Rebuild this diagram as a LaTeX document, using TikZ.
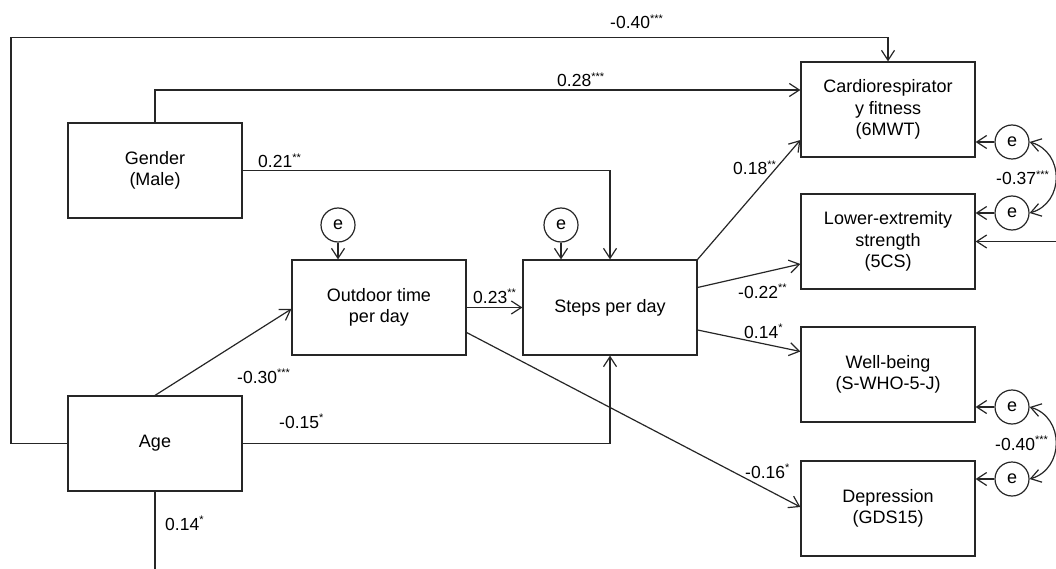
\documentclass[tikz,border=0pt]{standalone}
\usepackage{fontspec}
\setmainfont{Liberation Sans}
\usetikzlibrary{arrows.meta,calc}
\newcommand{\sigst}[1]{\raisebox{6.5pt}{\fontsize{11}{11}\selectfont #1}}
\begin{document}
\begin{tikzpicture}[x=1pt,y=-1pt,
  lc/.style={draw=black!85,line width=1.2pt},
  box/.style={lc,rectangle,minimum width=174pt,minimum height=95pt,align=center,font=\fontsize{18}{21.5}\selectfont,inner sep=0pt},
  err/.style={lc,circle,minimum size=34pt,inner sep=0pt,font=\fontsize{18}{18}\selectfont},
  conn/.style={lc,-{Straight Barb[length=10pt,width=13pt]}},
  cov/.style={lc,{Straight Barb[length=10pt,width=13pt]}-{Straight Barb[length=10pt,width=13pt]}},
  lab/.style={anchor=base west,inner sep=0pt,font=\fontsize{17.5}{17.5}\selectfont}]
\useasboundingbox (0,0) rectangle (1056,569);

% boxes
\node[box] (gender)  at (155,170.5) {Gender\\(Male)};
\node[box] (age)     at (155,443.5) {Age};
\node[box] (outdoor) at (379,307.5) {Outdoor time\\per day};
\node[box] (steps)   at (610,307.5) {Steps per day};
\node[box] (cardio)  at (888,109.5) {Cardiorespirator\\y fitness\\(6MWT)};
\node[box] (lower)   at (888,241.5) {Lower-extremity\\strength\\(5CS)};
\node[box] (well)    at (888,374.5) {Well-being\\(S-WHO-5-J)};
\node[box] (dep)     at (888,508.5) {Depression\\(GDS15)};

% error terms
\node[err] (eo) at (338,225) {e};
\node[err] (es) at (561,225) {e};
\node[err] (ec) at (1012,142) {e};
\node[err] (el) at (1012,213) {e};
\node[err] (ew) at (1012,407) {e};
\node[err] (ed) at (1012,479) {e};

\draw[conn] (eo) -- (eo |- outdoor.north);
\draw[conn] (es) -- (es |- steps.north);
\draw[conn] (ec) -- (ec -| cardio.east);
\draw[conn] (el) -- (el -| lower.east);
\draw[conn] (ew) -- (ew -| well.east);
\draw[conn] (ed) -- (ed -| dep.east);

\draw[cov] (ec.east) .. controls +(35,10) and +(35,-10) .. (el.east);
\draw[cov] (ew.east) .. controls +(35,10) and +(35,-10) .. (ed.east);

% coordinates
\coordinate (tl) at (11,37.5);
\coordinate (ab) at (155,575);
\coordinate (re) at (1062,241.5);

% paths
\draw[conn] (age.west) -| (tl) -| (cardio.north);
\draw[conn] (gender.north) |- ($(cardio.west)+(0,-19.5)$);
\draw[conn] (gender.east) -| (steps.north);
\draw[conn] (age.north) -- ($(outdoor.west)+(0,1.5)$);
\draw[conn] (outdoor.east) -- (steps.west);
\draw[conn] (age.east) -| (steps.south);
\draw[conn] ($(outdoor.east)+(0,25)$) -- ($(dep.west)+(0,-1.5)$);
\draw[conn] (steps.north east) -- ($(cardio.west)+(0,30.5)$);
\draw[conn] ($(steps.east)+(0,-20)$) -- ($(lower.west)+(0,22.5)$);
\draw[conn] ($(steps.east)+(0,22.5)$) -- ($(well.west)+(0,-23)$);
\draw[lc] (age.south) -- (ab);
\draw[conn] (re) -- (lower.east);

% labels
\node[lab] (l1)  at (610,29)  {-0.40\sigst{***}};
\node[lab] (l2)  at (557,87)  {0.28\sigst{***}};
\node[lab] (l3)  at (258,168) {0.21\sigst{**}};
\node[lab] (l4)  at (237,383) {-0.30\sigst{***}};
\node[lab] (l5)  at (279,428) {-0.15\sigst{*}};
\node[lab] (l6)  at (473,303) {0.23\sigst{**}};
\node[lab] (l7)  at (733,175) {0.18\sigst{**}};
\node[lab] (l8)  at (738,298) {-0.22\sigst{**}};
\node[lab] (l9)  at (744,338) {0.14\sigst{*}};
\node[lab] (l10) at (745,478) {-0.16\sigst{*}};
\node[lab] (l11) at (165,530) {0.14\sigst{*}};
\node[lab] (l12) at (996,185) {-0.37\sigst{***}};
\node[lab] (l13) at (995,450) {-0.40\sigst{***}};
\end{tikzpicture}
\end{document}
